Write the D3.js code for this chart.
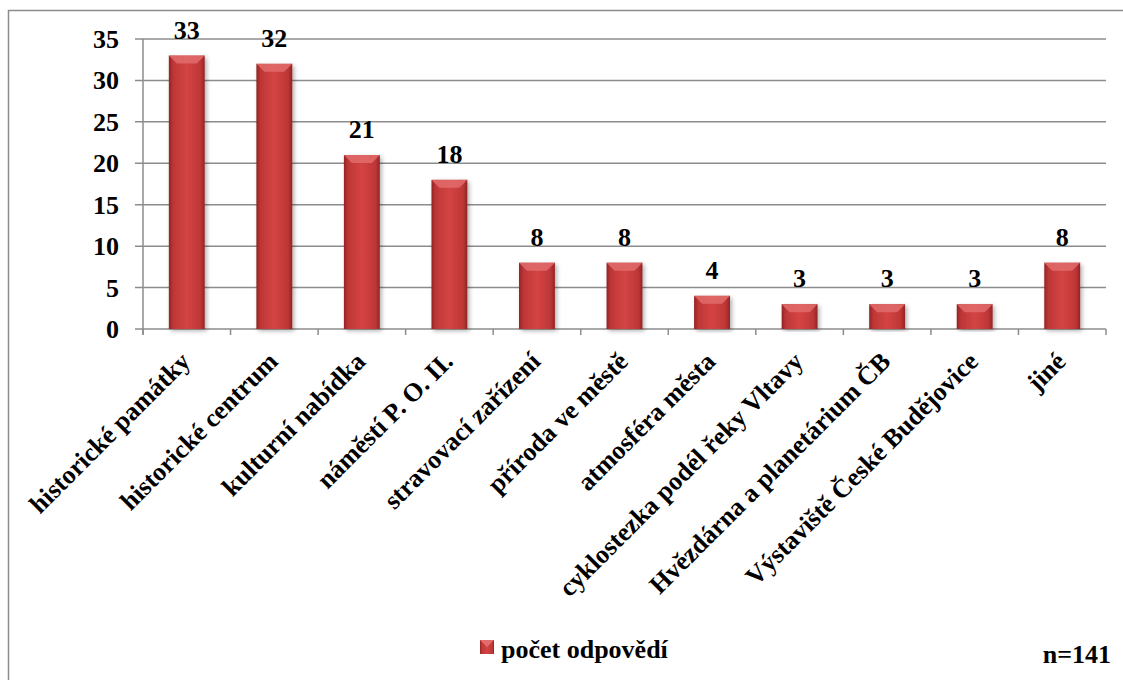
<!DOCTYPE html>
<meta charset="utf-8">
<script src="https://d3js.org/d3.v7.min.js"></script>
<style>
  body { margin: 0; background: #fff; }
</style>
<svg id="chart" width="1123" height="680"></svg>
<script>
// data
var categories = ["historické památky", "historické centrum", "kulturní nabídka", "náměstí P. O. II.",
  "stravovací zařízení", "příroda ve městě", "atmosféra města", "cyklostezka podél řeky Vltavy",
  "Hvězdárna a planetárium ČB", "Výstaviště České Budějovice", "jiné"];
var counts = [33, 32, 21, 18, 8, 8, 4, 3, 3, 3, 8];
var yTicks = [0, 5, 10, 15, 20, 25, 30, 35];
var seriesName = "počet odpovědí";
var note = "n=141";

var svg = d3.select("#chart");
var margin = {top: 39, left: 143, right: 1106, bottom: 329};
var fontFam = "Liberation Serif, Tinos, DejaVu Serif Condensed, DejaVu Serif";
var fs = "26px";

function label(sel) {
  return sel.style("font-family", fontFam).style("font-weight", "bold").style("font-size", fs).attr("fill", "#000");
}

// outer frame
svg.append("rect").attr("x", 8.5).attr("y", 10.5).attr("width", 1130).attr("height", 690)
  .attr("fill", "none").attr("stroke", "#8c8c8c").attr("stroke-width", 1.5);

var defs = svg.append("defs");
var grad = defs.append("linearGradient").attr("id", "barGrad").attr("x1", 0).attr("x2", 1).attr("y1", 0).attr("y2", 0);
grad.append("stop").attr("offset", "0%").attr("stop-color", "#922424");
grad.append("stop").attr("offset", "12%").attr("stop-color", "#be3636");
grad.append("stop").attr("offset", "50%").attr("stop-color", "#d44444");
grad.append("stop").attr("offset", "88%").attr("stop-color", "#be3636");
grad.append("stop").attr("offset", "100%").attr("stop-color", "#922424");
var shadow = defs.append("filter").attr("id", "shadow").attr("x", "-20%").attr("y", "-5%").attr("width", "150%").attr("height", "115%");
shadow.append("feDropShadow").attr("dx", 2).attr("dy", 2).attr("stdDeviation", 2).attr("flood-color", "#000").attr("flood-opacity", 0.3);

var x = d3.scaleBand().domain(categories).range([margin.left, margin.right]).paddingInner(0.59).paddingOuter(0.295);
var y = d3.scaleLinear().domain([0, 35]).range([margin.bottom, margin.top]);
var step = x.step();

// gridlines
svg.append("g").selectAll("line").data(yTicks).join("line")
  .attr("x1", margin.left - 8).attr("x2", margin.right)
  .attr("y1", function(d) { return y(d); }).attr("y2", function(d) { return y(d); })
  .attr("stroke", "#8c8c8c").attr("stroke-width", 1.5);

// y axis line
svg.append("line").attr("x1", margin.left).attr("x2", margin.left).attr("y1", margin.top).attr("y2", margin.bottom + 6)
  .attr("stroke", "#8c8c8c").attr("stroke-width", 1.5);

// category boundary ticks
var bounds = d3.range(categories.length + 1).map(function(i) { return margin.left + i * step; });
svg.append("g").selectAll("line").data(bounds).join("line")
  .attr("x1", function(d) { return d; }).attr("x2", function(d) { return d; })
  .attr("y1", margin.bottom).attr("y2", margin.bottom + 6)
  .attr("stroke", "#8c8c8c").attr("stroke-width", 1.5);

// y tick labels
label(svg.append("g").selectAll("text").data(yTicks).join("text")
  .attr("x", 119).attr("y", function(d) { return y(d) + 9; })
  .attr("text-anchor", "end")).text(function(d) { return d; });

// bars
var bars = svg.append("g").selectAll("g").data(counts).join("g");
bars.append("rect")
  .attr("x", function(d, i) { return x(categories[i]); })
  .attr("y", function(d) { return y(d); })
  .attr("width", x.bandwidth())
  .attr("height", function(d) { return y(0) - y(d); })
  .attr("fill", "url(#barGrad)").attr("filter", "url(#shadow)");
// top bevel
bars.append("path")
  .attr("d", function(d, i) {
    var x0 = x(categories[i]), x1 = x0 + x.bandwidth(), t = y(d), b = 8;
    return "M" + x0 + "," + t + "L" + x1 + "," + t + "L" + (x1 - b) + "," + (t + b) + "L" + (x0 + b) + "," + (t + b) + "Z";
  })
  .attr("fill", "#e26c6c").attr("opacity", 0.85);

// value labels
label(svg.append("g").selectAll("text").data(counts).join("text")
  .attr("x", function(d, i) { return x(categories[i]) + x.bandwidth() / 2; })
  .attr("y", function(d) { return y(d) - 17; })
  .attr("text-anchor", "middle")).text(function(d) { return d; });

// category labels
label(svg.append("g").selectAll("text").data(categories).join("text")
  .attr("transform", function(d) { return "translate(" + (x(d) + x.bandwidth() / 2 + 5) + "," + (margin.bottom + 34) + ") rotate(-45)"; })
  .attr("text-anchor", "end")).text(function(d) { return d; });

// legend
svg.append("rect").attr("x", 480).attr("y", 640).attr("width", 14).attr("height", 14).attr("fill", "url(#barGrad)");
svg.append("path").attr("d", "M480,640L494,640L487,647Z").attr("fill", "#e26c6c");
label(svg.append("text").attr("x", 501).attr("y", 658)).text(seriesName);

label(svg.append("text").attr("x", 1111).attr("y", 663).attr("text-anchor", "end")).text(note);
</script>
